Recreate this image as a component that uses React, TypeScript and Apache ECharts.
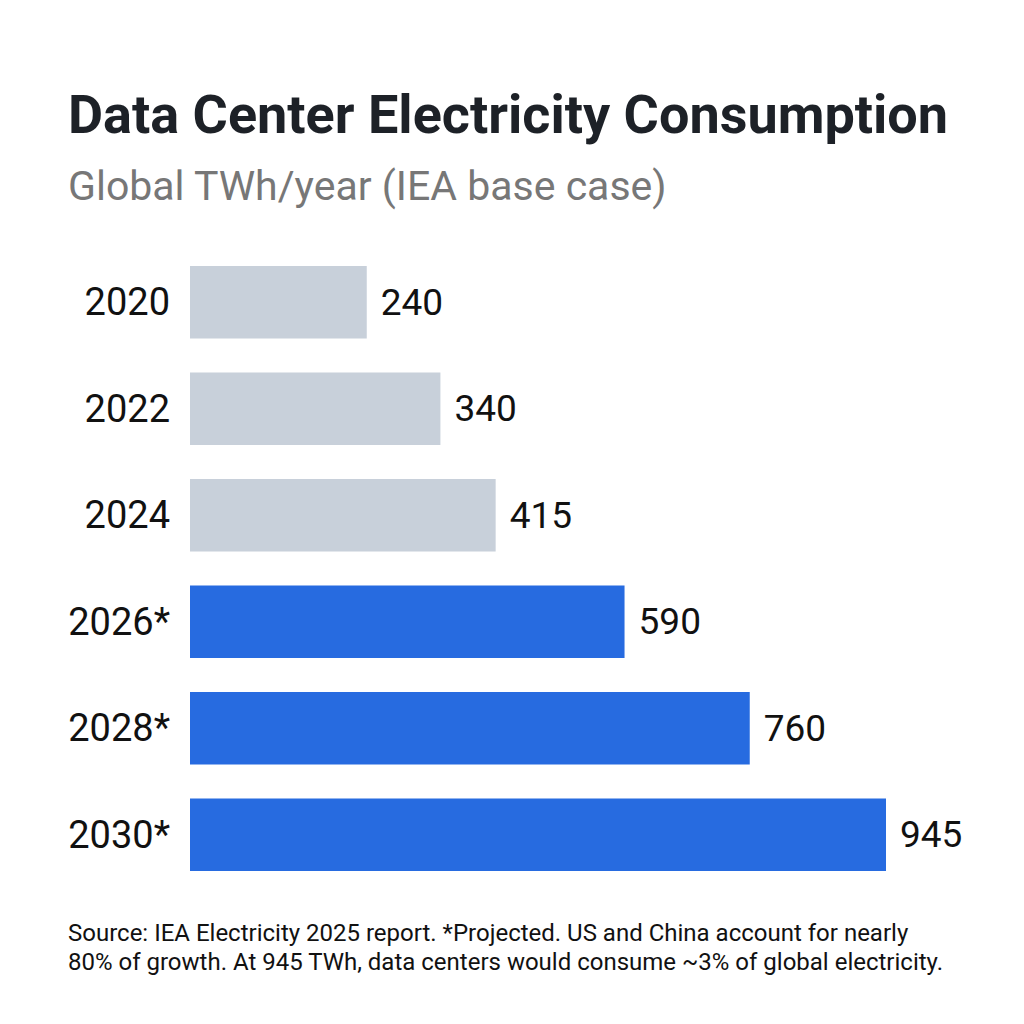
import React, { useEffect, useRef } from "react";
import * as echarts from "echarts";

// Data center electricity use, global TWh per year
const years = ["2020", "2022", "2024", "2026*", "2028*", "2030*"];
const consumption = [240, 340, 415, 590, 760, 945];
const projected = [false, false, false, true, true, true];

const titleText = "Data Center Electricity Consumption";
const subtitleText = "Global TWh/year (IEA base case)";
const noteLines = [
  "Source: IEA Electricity 2025 report. *Projected. US and China account for nearly",
  "80% of growth. At 945 TWh, data centers would consume ~3% of global electricity.",
];

const HISTORIC = "#c8d0da";
const PROJECTED = "#276be0";
const FONT = "Roboto, 'Noto Sans', sans-serif";

export default function App() {
  const ref = useRef<HTMLDivElement>(null);

  useEffect(() => {
    if (!ref.current) return;
    const chart = echarts.init(ref.current, null, { renderer: "svg" });
    chart.setOption({
      animation: false,
      backgroundColor: "#ffffff",
      textStyle: { fontFamily: FONT },
      grid: { left: 190, right: 138, top: 249, bottom: 136, containLabel: false },
      xAxis: {
        type: "value",
        min: 0,
        max: 945,
        show: false,
      },
      yAxis: {
        type: "category",
        data: years,
        inverse: true,
        axisLine: { show: false },
        axisTick: { show: false },
        splitLine: { show: false },
        axisLabel: {
          margin: 20,
          fontSize: 38,
          color: "#111111",
          fontFamily: FONT,
        },
      },
      series: [
        {
          type: "bar",
          data: consumption.map((v, i) => ({
            value: v,
            itemStyle: { color: projected[i] ? PROJECTED : HISTORIC },
          })),
          barCategoryGap: "32%",
          label: {
            show: true,
            position: "right",
            distance: 14,
            fontSize: 37,
            color: "#111111",
            fontFamily: FONT,
          },
        },
      ],
      graphic: [
        {
          type: "text",
          left: 68,
          top: 87,
          style: {
            text: titleText,
            fontSize: 54,
            fontWeight: "bold",
            fill: "#1d2127",
            fontFamily: FONT,
          },
        },
        {
          type: "text",
          left: 68,
          top: 165,
          style: {
            text: subtitleText,
            fontSize: 41,
            fill: "#777777",
            fontFamily: FONT,
          },
        },
        ...noteLines.map((line, i) => ({
          type: "text",
          left: 68,
          top: 921 + i * 29,
          style: {
            text: line,
            fontSize: 24,
            fill: "#111111",
            fontFamily: FONT,
          },
        })),
      ],
    });
    return () => chart.dispose();
  }, []);

  return (
    <div
      ref={ref}
      style={{ position: "fixed", left: 0, top: 0, width: 1024, height: 1024 }}
    />
  );
}
